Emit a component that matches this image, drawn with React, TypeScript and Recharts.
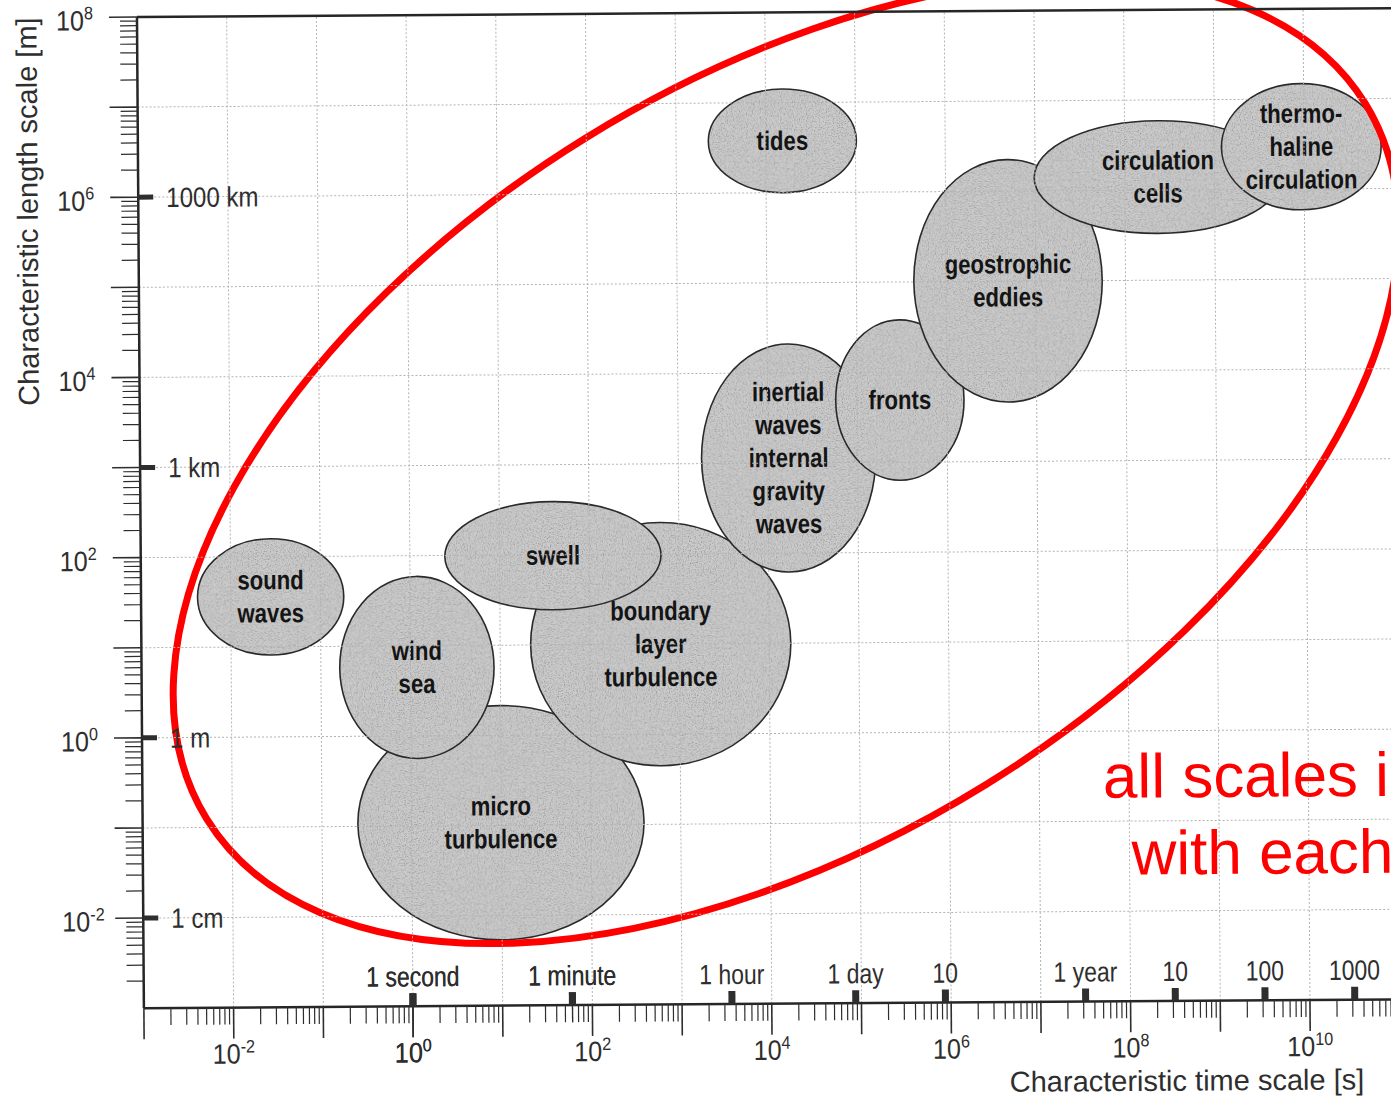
import React from 'react';
import { ComposedChart, XAxis, YAxis, ReferenceArea, ReferenceLine, ReferenceDot } from 'recharts';

// Ocean processes, listed bottom-most first (later ones are drawn on top)
const processes = [
  'micro\nturbulence',
  'boundary\nlayer\nturbulence',
  'wind\nsea',
  'swell',
  'sound\nwaves',
  'inertial\nwaves\ninternal\ngravity\nwaves',
  'fronts',
  'geostrophic\neddies',
  'circulation\ncells',
  'thermo-\nhaline\ncirculation',
  'tides',
];

// log10 of the characteristic time scale [s], [min, max]
const timeSpan: [number, number][] = [
  [-0.6, 2.59],
  [1.34, 4.24],
  [-0.79, 0.93],
  [0.39, 2.8],
  [-2.37, -0.74],
  [3.26, 5.2],
  [4.76, 6.19],
  [5.64, 7.74],
  [6.99, 9.75],
  [9.08, 10.86],
  [3.36, 5.01],
];

// log10 of the characteristic length scale [m], [min, max]
const lengthSpan: [number, number][] = [
  [-2.27, 0.33],
  [-0.35, 2.35],
  [-0.25, 1.77],
  [1.39, 2.59],
  [0.91, 2.2],
  [1.79, 4.32],
  [2.8, 4.58],
  [3.66, 6.35],
  [5.52, 6.77],
  [5.77, 7.17],
  [6.0, 7.15],
];

const timeDecades = [-3, -2, -1, 0, 1, 2, 3, 4, 5, 6, 7, 8, 9, 10, 11];
const lengthDecades = [-2, -1, 0, 1, 2, 3, 4, 5, 6, 7, 8];
const minorSteps = [2, 3, 4, 5, 6, 7, 8, 9];

const timeMarks = [
  { seconds: 1, label: '1 second' },
  { seconds: 60, label: '1 minute' },
  { seconds: 3600, label: '1 hour' },
  { seconds: 86400, label: '1 day' },
  { seconds: 864000, label: '10' },
  { seconds: 3.156e7, label: '1 year' },
  { seconds: 3.156e8, label: '10' },
  { seconds: 3.156e9, label: '100' },
  { seconds: 3.156e10, label: '1000' },
];

const lengthMarks = [
  { exp: 6, label: '1000 km' },
  { exp: 3, label: '1 km' },
  { exp: 0, label: '1 m' },
  { exp: -2, label: '1 cm' },
];

// red annotation ring around the cascade (centre and half spans in log units)
const ringCenter = [4.2, 3.02];
const ringHalf = [7.59, 4.22];
const noteAt = [7.71, -0.74];
const noteLines = ['all scales i', 'with each'];

const ink = '#2e2e2e';
const plain = "'Liberation Sans', Arial, sans-serif";

const near = (a: number, b: number) => Math.abs(a - b) < 1e-6;
const isMinor = (v: number) => {
  const f = v - Math.floor(v);
  return minorSteps.some((k) => near(f, Math.log10(k)));
};

const minorTicks = (decades: number[]) =>
  decades.slice(0, -1).flatMap((d) => minorSteps.map((k) => d + Math.log10(k)));

const xTicks = [...timeDecades, ...minorTicks(timeDecades), ...timeMarks.map((m) => Math.log10(m.seconds))];
const yTicks = [...lengthDecades, ...minorTicks([-3, ...lengthDecades])];

// condensed lettering: plain sans squeezed horizontally
function Narrow({
  x,
  y,
  size,
  anchor = 'start',
  weight = 'normal',
  squeeze = 0.82,
  fill = ink,
  children,
}: any) {
  return (
    <g transform={`translate(${x} ${y}) scale(${squeeze} 1)`}>
      <text x={0} y={0} textAnchor={anchor} fontFamily={plain} fontSize={size} fontWeight={weight} fill={fill}>
        {children}
      </text>
    </g>
  );
}

function Power({ x, y, exp, anchor }: { x: number; y: number; exp: number; anchor: 'start' | 'middle' }) {
  return (
    <Narrow x={x} y={y} size={28} anchor={anchor} squeeze={0.9}>
      10
      <tspan dy={-11} fontSize={18}>
        {exp}
      </tspan>
    </Narrow>
  );
}

function TimeTick(props: any) {
  const { x, y, payload } = props;
  const v = payload.value as number;
  const major = Number.isInteger(v);
  const mark = timeMarks.find((m) => near(Math.log10(m.seconds), v));
  return (
    <g>
      {major && <line x1={x} x2={x} y1={y} y2={y + 31} stroke={ink} strokeWidth={1.6} />}
      {major && v % 2 === 0 && <Power x={x} y={y + 56} exp={v} anchor="middle" />}
      {!major && isMinor(v) && <line x1={x} x2={x} y1={y} y2={y + 17} stroke={ink} strokeWidth={1.2} />}
      {mark && (
        <g>
          <rect x={x - 3.5} y={y - 13} width={7} height={13} fill={ink} />
          <Narrow x={x} y={y - 20} size={28} anchor="middle">
            {mark.label}
          </Narrow>
        </g>
      )}
    </g>
  );
}

function LengthTick(props: any) {
  const { x, y, payload } = props;
  const v = payload.value as number;
  const major = Number.isInteger(v);
  const mark = lengthMarks.find((m) => m.exp === v);
  return (
    <g>
      {major && <line x1={x - 28} x2={x} y1={y} y2={y} stroke={ink} strokeWidth={1.6} />}
      {major && v % 2 === 0 && <Power x={x - 81} y={y + 13} exp={v} anchor="start" />}
      {!major && isMinor(v) && <line x1={x - 17} x2={x} y1={y} y2={y} stroke={ink} strokeWidth={1.2} />}
      {mark && (
        <g>
          <rect x={x} y={y - 2.5} width={15} height={5} fill={ink} />
          <Narrow x={x + 28} y={y + 10} size={28} squeeze={0.86}>
            {mark.label}
          </Narrow>
        </g>
      )}
    </g>
  );
}

function Bubble(props: any) {
  const { x, y, width, height, text, id } = props;
  const cx = x + width / 2;
  const cy = y + height / 2;
  const lines = (text as string).split('\n');
  const grain = `grain-${id}`;
  return (
    <g>
      <defs>
        {/* printed halftone speckle inside the grey fill */}
        <filter id={grain} x="-5%" y="-5%" width="110%" height="110%">
          <feTurbulence type="fractalNoise" baseFrequency="0.85" numOctaves={2} seed={id + 3} result="noise" />
          <feColorMatrix
            in="noise"
            type="matrix"
            values="0 0 0 0 0.12  0 0 0 0 0.12  0 0 0 0 0.12  1.6 0 0 0 -0.72"
            result="dots"
          />
          <feComposite in="dots" in2="SourceGraphic" operator="in" result="clipped" />
          <feMerge>
            <feMergeNode in="SourceGraphic" />
            <feMergeNode in="clipped" />
          </feMerge>
        </filter>
      </defs>
      <ellipse cx={cx} cy={cy} rx={width / 2} ry={height / 2} fill="#cbcbcb" filter={`url(#${grain})`} />
      <ellipse cx={cx} cy={cy} rx={width / 2} ry={height / 2} fill="none" stroke="#2a2a2a" strokeWidth={1.6} />
      {lines.map((line, i) => (
        <Narrow
          key={i}
          x={cx}
          y={cy + (i - (lines.length - 1) / 2) * 33 + 9}
          size={27}
          anchor="middle"
          weight="bold"
          fill="#141414"
        >
          {line}
        </Narrow>
      ))}
    </g>
  );
}

function Ring(props: any) {
  const { x, y, width, height } = props;
  const cx = x + width / 2;
  const cy = y + height / 2;
  return (
    <ellipse
      cx={cx}
      cy={cy}
      rx={width / 2}
      ry={height / 2}
      transform={`rotate(-31.3 ${cx} ${cy})`}
      fill="none"
      stroke="#ff0000"
      strokeWidth={7}
    />
  );
}

function Note(props: any) {
  const vb = props.viewBox || {};
  return (
    <text fontFamily={plain} fontSize={62} fill="#ff0000">
      <tspan x={vb.x} y={vb.y}>
        {noteLines[0]}
      </tspan>
      <tspan x={vb.x + 28} y={vb.y + 77}>
        {noteLines[1]}
      </tspan>
    </text>
  );
}

function TimeTitle() {
  return (
    <text x={1006} y={1094} fontFamily={plain} fontSize={29} fill={ink}>
      Characteristic time scale [s]
    </text>
  );
}

function LengthTitle() {
  return (
    <text
      x={40}
      y={207}
      transform="rotate(-90 40 207)"
      textAnchor="middle"
      fontFamily={plain}
      fontSize={29}
      fill={ink}
    >
      Characteristic length scale [m]
    </text>
  );
}

export default function App() {
  return (
    <div style={{ position: 'absolute', left: 0, top: 0, width: 1391, height: 1098, overflow: 'hidden', background: '#fff' }}>
      <div style={{ width: 1420, height: 1120, transform: 'rotate(-0.4deg)', transformOrigin: '695px 549px' }}>
        <ComposedChart width={1420} height={1120} margin={{ top: 13.1, right: 23.5, bottom: 114.7, left: 139.7 }}>
          <XAxis
            type="number"
            dataKey="t"
            domain={[-3, 11]}
            allowDataOverflow
            ticks={xTicks}
            interval={0}
            tick={<TimeTick />}
            tickLine={false}
            tickSize={0}
            tickMargin={0}
            height={1}
            axisLine={{ stroke: '#262626', strokeWidth: 2.5 }}
            label={<TimeTitle />}
          />
          <YAxis
            type="number"
            dataKey="l"
            domain={[-3, 8]}
            allowDataOverflow
            ticks={yTicks}
            interval={0}
            tick={<LengthTick />}
            tickLine={false}
            tickSize={0}
            tickMargin={0}
            width={1}
            axisLine={{ stroke: '#262626', strokeWidth: 2.5 }}
            label={<LengthTitle />}
          />
          {timeDecades.slice(1, -1).map((d) => (
            <ReferenceLine key={`gx${d}`} x={d} stroke="#b3b3b3" strokeDasharray="2 2" strokeWidth={1} />
          ))}
          {lengthDecades.slice(0, -1).map((d) => (
            <ReferenceLine key={`gy${d}`} y={d} stroke="#b3b3b3" strokeDasharray="2 2" strokeWidth={1} />
          ))}
          <ReferenceLine y={8} stroke="#262626" strokeWidth={2.5} />
          {processes.map((name, i) => (
            <ReferenceArea
              key={name}
              x1={timeSpan[i][0]}
              x2={timeSpan[i][1]}
              y1={lengthSpan[i][0]}
              y2={lengthSpan[i][1]}
              ifOverflow="visible"
              shape={(p: any) => <Bubble {...p} text={name} id={i} />}
            />
          ))}
          <ReferenceArea
            x1={ringCenter[0] - ringHalf[0]}
            x2={ringCenter[0] + ringHalf[0]}
            y1={ringCenter[1] - ringHalf[1]}
            y2={ringCenter[1] + ringHalf[1]}
            ifOverflow="visible"
            shape={(p: any) => <Ring {...p} />}
          />
          <ReferenceDot x={noteAt[0]} y={noteAt[1]} r={0} ifOverflow="visible" label={<Note />} />
        </ComposedChart>
      </div>
    </div>
  );
}
